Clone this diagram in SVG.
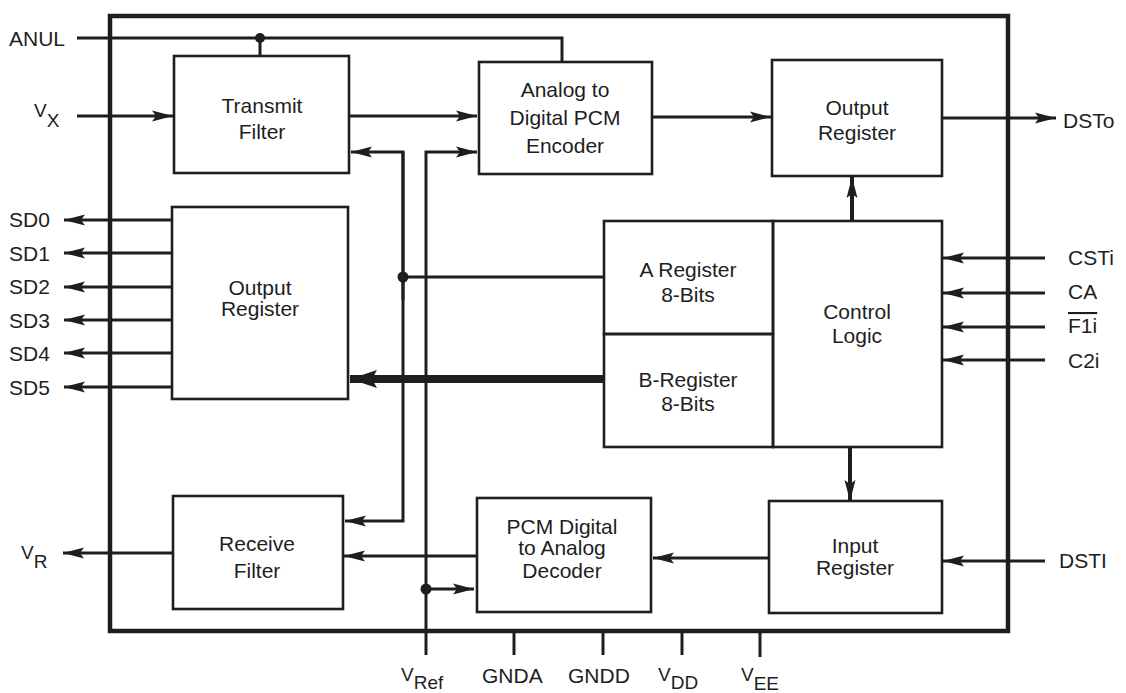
<svg xmlns="http://www.w3.org/2000/svg" width="1126" height="693" viewBox="0 0 1126 693">
<style>
text{font-family:"Liberation Sans",Arial,sans-serif;font-size:21px;fill:#1e1e1e}
.c{text-anchor:middle}
.sub{font-size:19px}
.box{fill:none;stroke:#1e1e1e;stroke-width:2.6}
.ln{fill:none;stroke:#1e1e1e;stroke-width:3}
.ar{marker-end:url(#ah)}
.dot{fill:#1e1e1e}
.pin{stroke:#1e1e1e;stroke-width:3}
</style>
<defs>
<marker id="ah" markerUnits="userSpaceOnUse" markerWidth="22" markerHeight="12" refX="21" refY="6" orient="auto">
<path d="M0,0.5 L21,6 L0,11.5 L4,6 z" fill="#1e1e1e"/>
</marker>
<marker id="ahb" markerUnits="userSpaceOnUse" markerWidth="28" markerHeight="18" refX="27" refY="9" orient="auto">
<path d="M0,0 L27,9 L0,18 L5,9 z" fill="#1e1e1e"/>
</marker>
</defs>
<rect width="1126" height="693" fill="#ffffff"/>
<g id="chip"><rect x="110" y="16" width="898" height="615" fill="none" stroke="#1e1e1e" stroke-width="4.5"/></g>

<g id="connectors">
<polyline class="ln" points="77,38 562,38 562,62"/>
<line class="ln" x1="260" y1="38" x2="260" y2="56"/>
<circle class="dot" cx="260" cy="38" r="5"/>
<line class="ln ar" x1="77" y1="116" x2="173" y2="116"/>
<line class="ln ar" x1="349" y1="116" x2="477" y2="116"/>
<line class="ln ar" x1="652" y1="117" x2="771" y2="117"/>
<line class="ln ar" x1="942" y1="118" x2="1056" y2="118"/>
<path class="ln ar" d="M403,300 L403,152 L351,152"/>
<path class="ln ar" d="M403,152 L403,521 L345,521"/>
<circle class="dot" cx="403" cy="277" r="5.5"/>
<line class="ln" x1="403" y1="277" x2="604" y2="277"/>
<path class="ln ar" d="M426,655 L426,152 L477,152"/>
<circle class="dot" cx="426" cy="589" r="5.5"/>
<line class="ln ar" x1="426" y1="589" x2="474" y2="589"/>
<line class="ln ar" x1="172" y1="220" x2="64" y2="220"/>
<line class="ln ar" x1="172" y1="253" x2="64" y2="253"/>
<line class="ln ar" x1="172" y1="287" x2="64" y2="287"/>
<line class="ln ar" x1="172" y1="320" x2="64" y2="320"/>
<line class="ln ar" x1="172" y1="353" x2="64" y2="353"/>
<line class="ln ar" x1="172" y1="387" x2="64" y2="387"/>
<line x1="603" y1="379" x2="350" y2="379" stroke="#1e1e1e" stroke-width="8" marker-end="url(#ahb)"/>
<line class="ar" x1="852" y1="222" x2="852" y2="177" stroke="#1e1e1e" stroke-width="4"/>
<line class="ar" x1="850" y1="448" x2="850" y2="501" stroke="#1e1e1e" stroke-width="4"/>
<line class="ln ar" x1="1045" y1="258" x2="943" y2="258"/>
<line class="ln ar" x1="1045" y1="293" x2="943" y2="293"/>
<line class="ln ar" x1="1045" y1="327" x2="943" y2="327"/>
<line class="ln ar" x1="1045" y1="360" x2="943" y2="360"/>
<line class="ln ar" x1="1045" y1="561" x2="943" y2="561"/>
<line class="ln ar" x1="769" y1="558" x2="653" y2="558"/>
<line class="ln ar" x1="477" y1="556" x2="344" y2="556"/>
<line class="ln ar" x1="173" y1="553" x2="63" y2="553"/>
<line class="pin" x1="514" y1="631" x2="514" y2="655"/>
<line class="pin" x1="603" y1="631" x2="603" y2="655"/>
<line class="pin" x1="682" y1="631" x2="682" y2="655" stroke-width="5"/>
<line class="pin" x1="760" y1="631" x2="760" y2="657" stroke-width="5"/>
</g>

<g id="transmit-filter">
<rect class="box" x="174" y="56" width="175" height="117"/>
<text class="c" x="262" y="113">Transmit</text>
<text class="c" x="262" y="139">Filter</text>
</g>
<g id="encoder">
<rect class="box" x="479" y="62" width="173" height="112"/>
<text class="c" x="565" y="97">Analog to</text>
<text class="c" x="565" y="125">Digital PCM</text>
<text class="c" x="565" y="153">Encoder</text>
</g>
<g id="output-register-tx">
<rect class="box" x="772" y="60" width="170" height="116"/>
<text class="c" x="857" y="115">Output</text>
<text class="c" x="857" y="140">Register</text>
</g>
<g id="output-register-sd">
<rect class="box" x="172" y="207" width="176" height="192"/>
<text class="c" x="260" y="295">Output</text>
<text class="c" x="260" y="316">Register</text>
</g>
<g id="a-register">
<rect class="box" x="604" y="221" width="169" height="113"/>
<text class="c" x="688" y="277">A Register</text>
<text class="c" x="688" y="302">8-Bits</text>
</g>
<g id="b-register">
<rect class="box" x="604" y="334" width="169" height="113"/>
<text class="c" x="688" y="387">B-Register</text>
<text class="c" x="688" y="411">8-Bits</text>
</g>
<g id="control-logic">
<rect class="box" x="773" y="221" width="169" height="226"/>
<text class="c" x="857" y="319">Control</text>
<text class="c" x="857" y="343">Logic</text>
</g>
<g id="receive-filter">
<rect class="box" x="173" y="496" width="170" height="113"/>
<text class="c" x="257" y="551">Receive</text>
<text class="c" x="257" y="578">Filter</text>
</g>
<g id="decoder">
<rect class="box" x="477" y="498" width="174" height="114"/>
<text class="c" x="562" y="534">PCM Digital</text>
<text class="c" x="562" y="555">to Analog</text>
<text class="c" x="562" y="578">Decoder</text>
</g>
<g id="input-register">
<rect class="box" x="769" y="501" width="173" height="112"/>
<text class="c" x="855" y="553">Input</text>
<text class="c" x="855" y="575">Register</text>
</g>

<g id="pin-labels">
<text x="9" y="46">ANUL</text>
<text x="34" y="117" class="sub">V<tspan dy="10">X</tspan></text>
<text x="9" y="227">SD0</text>
<text x="9" y="261">SD1</text>
<text x="9" y="294">SD2</text>
<text x="9" y="328">SD3</text>
<text x="9" y="361">SD4</text>
<text x="9" y="395">SD5</text>
<text x="21" y="559" class="sub">V<tspan dy="9">R</tspan></text>
<text x="1063" y="128">DSTo</text>
<text x="1068" y="265">CSTi</text>
<text x="1068" y="299">CA</text>
<text x="1068" y="333" style="text-decoration:overline">F1i</text>
<text x="1068" y="368">C2i</text>
<text x="1059" y="568">DSTI</text>
<text x="401" y="681" class="sub">V<tspan dy="8">Ref</tspan></text>
<text x="482" y="683">GNDA</text>
<text x="568" y="683">GNDD</text>
<text x="658" y="681" class="sub">V<tspan dy="8">DD</tspan></text>
<text x="741" y="681" class="sub">V<tspan dy="9">EE</tspan></text>
</g>
</svg>
